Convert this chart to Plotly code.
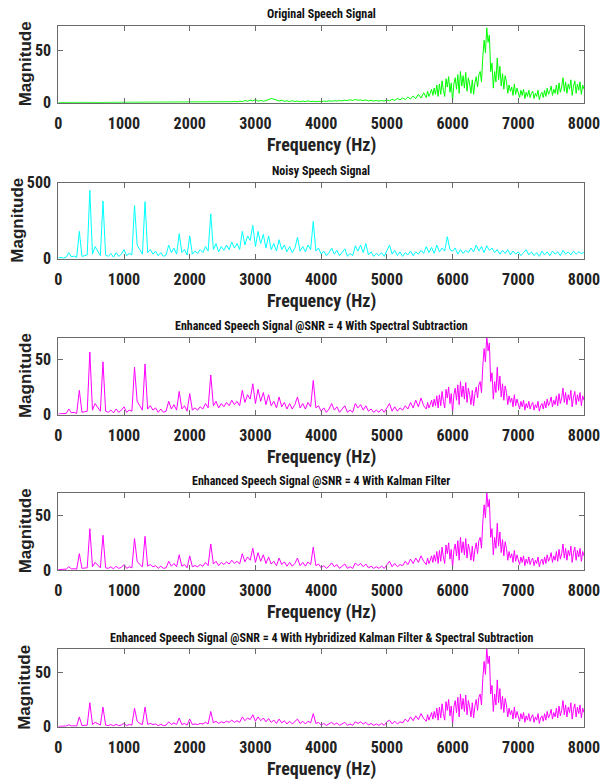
import plotly.graph_objects as go

# ---------------- data ----------------
# FFT bin grids: 40 Hz bins below 5600 Hz, 20 Hz bins in the dense upper band
freqs_full = [i * 40 for i in range(201)]          # 0 .. 8000 Hz
freqs_low = [i * 40 for i in range(140)]           # 0 .. 5560 Hz
freqs_high = [5600 + i * 20 for i in range(121)]   # 5600 .. 8000 Hz

x_ticks = [0, 1000, 2000, 3000, 4000, 5000, 6000, 7000, 8000]

titles = [
    "Original Speech Signal",
    "Noisy Speech Signal",
    "Enhanced Speech Signal @SNR = 4 With Spectral Subtraction",
    "Enhanced Speech Signal @SNR = 4 With Kalman Filter",
    "Enhanced Speech Signal @SNR = 4 With Hybridized Kalman Filter & Spectral Subtraction",
]

# upper band 5600-8000 Hz (identical-looking in the original and all enhanced panels)
upper_band = [
    5, 11, 6, 9, 13, 7, 14, 8, 17, 6, 18,
    8, 21, 12, 6, 23, 15, 25, 10, 19, 2,
    18, 24, 13, 27, 9, 30, 16, 26, 14, 29,
    11, 24, 18, 9, 22, 8, 19, 25, 15, 27,
    30, 20, 44, 60, 48, 72, 58, 65, 30, 38,
    14, 30, 20, 43, 22, 35, 16, 28, 13, 26,
    20, 9, 17, 11, 15, 7, 18, 8, 14, 10,
    5, 12, 7, 13, 4, 10, 6, 12, 5, 9,
    11, 4, 9, 6, 12, 3, 8, 10, 5, 12,
    6, 14, 8, 11, 16, 7, 13, 9, 17, 8,
    19, 10, 15, 24, 11, 20, 9, 18, 13, 22,
    7, 16, 21, 9, 18, 12, 20, 8, 17, 13,
]

original_low = [
    0.2,0.3,0.3,0.2,0.3, 0.3,0.2,0.3,0.3,0.3, 0.2,0.3,0.3,0.2,0.3, 0.3,0.3,0.2,0.3,0.3, 0.2,0.3,0.3,0.3,0.2,
    0.3,0.2,0.3,0.3,0.2, 0.3,0.3,0.2,0.3,0.3, 0.3,0.2,0.3,0.3,0.2, 0.3,0.3,0.3,0.2,0.3, 0.3,0.2,0.3,0.3,0.3,
    0.3,0.4,0.3,0.4,0.3, 0.4,0.4,0.3,0.5,0.4, 0.5,0.4,0.6,0.5,0.7, 0.6,0.9,1.2,0.8,1.5, 1.1,2.0,1.4,2.4,1.8,
    3.0,1.5,2.2,1.4,2.0, 3.2,4.0,3.5,2.2,1.6, 2.4,1.3,1.8,1.1,1.9, 1.2,1.6,0.9,1.5,1.0, 1.7,1.1,1.4,0.9,1.3,
    1.0,1.6,1.2,1.8,1.4, 2.0,1.5,2.2,1.7,2.5, 1.9,2.8,2.2,3.0,2.4, 2.7,2.0,2.6,1.8,2.3, 1.6,2.2,1.5,2.0,1.7,
    2.5,1.8,3.2,2.2,4.0, 2.8,4.5,3.0,5.5,3.5, 6.5,4.0,8.0,4.5,9.5,
]

noisy = [
    5,8,4,10,40, 12,18,8,180,15, 20,25,450,30,80, 45,20,380,25,15, 35,10,40,15,30,
    60,20,35,25,350, 90,60,30,375,40, 60,30,50,20,40, 15,25,90,40,70, 30,165,40,60,25,
    150,30,50,35,60, 40,80,50,295,60, 100,45,80,55,90, 60,110,70,100,60, 180,90,150,120,220,
    80,180,100,160,70, 150,60,100,50,125, 60,90,45,80,40, 70,140,50,80,45, 90,60,245,50,70,
    30,50,20,40,70, 30,55,20,40,65, 15,35,20,85,50, 90,40,100,25,45, 15,35,20,40,15,
    50,90,30,55,20, 45,15,40,25,50, 20,45,30,55,35, 80,40,75,35,90, 45,70,50,145,60,
    50,70,30,60,35, 55,40,70,45,90, 50,80,40,85,55, 70,40,60,30,55, 35,60,25,50,30,
    45,20,40,60,25, 45,20,40,15,50, 25,45,20,50,30, 45,20,55,30,45, 25,50,30,45,35,
    40,
]

spectral_sub_low = [
    0.5,0.8,0.5,1.0,5, 1.5,2,1,22,2, 2.5,3,57,4,10, 6,3,48,3,2, 4,1.5,5,2,4,
    7,2,4,3,43, 12,8,4,46,5, 8,4,6,2,5, 2,3,12,5,9, 4,21,5,8,3,
    19,4,6,4,7, 5,10,6,36,8, 12,6,10,7,11, 8,13,9,12,8, 22,11,18,14,28,
    10,23,12,20,9, 18,8,12,6,16, 7,11,5,10,5, 9,16,6,10,5, 11,7,31,6,8,
    3,6,2,5,10, 4,7,2,5,8, 2,4,2,10,6, 9,4,8,3,5, 2,4,2,5,2,
    6,10,3,7,3, 6,4,8,5,11, 6,13,7,15,8,
]

kalman_low = [
    0.4,0.6,0.4,0.8,3, 1.0,1.2,0.8,15,1.5, 1.8,2.0,38,3,7, 4,2,32,2,1.5, 3,1,3.5,1.5,2.5,
    5,1.5,3,2,29, 8,5,3,31,3.5, 5,3,4,1.5,3.5, 1.5,2,8,3.5,6, 3,14,3.5,5,2,
    13,3,4,3,5, 3.5,7,4,24,5.5, 8,4,7,5,7.5, 5.5,9,6,8,5.5, 15,7.5,12,9,20,
    7,16,8,14,6, 12,5.5,8,4,11, 5,7.5,3.5,7,3.5, 6,11,4,7,3.5, 7.5,5,21,4,5.5,
    2,4,1.5,3.5,6.5, 3,5,1.5,3.5,5.5, 1.5,3,1.5,6.5,4, 6,3,5.5,2,3.5, 1.5,3,1.5,3.5,1.5,
    5,8,3,6,3, 5,4,8,5,10, 6,11,7,13,8,
]

hybrid_low = [
    0.3,0.5,0.3,0.6,1.8, 0.7,0.8,0.6,9,1.0, 1.2,1.4,22,2,4, 2.5,1.5,18,1.5,1.0, 2,0.8,2.2,1.0,1.6,
    3,1.0,2,1.5,17, 5,3,2,18,2.2, 3,2,2.5,1,2.2, 1,1.4,4.5,2,3.5, 2,8,2,3,1.5,
    7,2,2.5,2,3, 2.5,4,2.5,14,3.5, 5,3,4.5,3.5,5, 4,6,4,5.5,4, 9,5.5,8,6.5,11,
    5,9,5.5,8,4.5, 7.5,4,6,3,7, 3.5,5.5,2.5,5,2.5, 4.5,7,3,5,2.5, 5,3.5,12,3,4,
    1.5,3,1.2,2.5,4, 2,3.5,1.2,2.5,4, 1.2,2.5,1.2,4.5,3, 4.5,2.5,4,1.5,3, 1.2,2.5,1.2,3,1.2,
    4.5,6,2.5,5,2.5, 4.5,3.5,7,4.5,9, 5.5,10,6.5,12,7.5,
]

series_x = [
    freqs_low + freqs_high,
    freqs_full,
    freqs_low + freqs_high,
    freqs_low + freqs_high,
    freqs_low + freqs_high,
]
series_y = [
    original_low + upper_band,
    noisy,
    spectral_sub_low + upper_band,
    kalman_low + upper_band,
    hybrid_low + upper_band,
]
y_max = [73.7, 500, 70, 71.2, 71.4]
y_ticks = [[0, 50], [0, 500], [0, 50], [0, 50], [0, 50]]
colors = ["#00FF00", "#00FFFF", "#FF00FF", "#FF00FF", "#FF00FF"]

# ---------------- layout geometry (pixels) ----------------
W, H = 612, 782
X_LEFT, X_RIGHT = 58.3, 584.0
boxes = [(26.0, 102.7), (182.7, 258.7), (337.7, 414.5), (492.7, 570.0), (649.0, 726.7)]
ylabel_x = [25, 18, 25, 25, 25]

def py(p):
    return 1 - p / H

NARROW = ("Liberation Sans Narrow, Arial Narrow, Noto Sans Condensed, "
          "Roboto Condensed, Liberation Sans, Arial, sans-serif")
REGULAR = "Liberation Sans, Arial, sans-serif"
AXIS_COLOR = "#6a6a6a"

fig = go.Figure()
layout = dict(
    width=W, height=H,
    margin=dict(l=0, r=0, t=0, b=0, autoexpand=False),
    paper_bgcolor="white", plot_bgcolor="white",
    showlegend=False,
)
annotations = []

for i, (xs, ys, col) in enumerate(zip(series_x, series_y, colors)):
    n = i + 1
    xa = "x" if n == 1 else f"x{n}"
    ya = "y" if n == 1 else f"y{n}"
    fig.add_trace(go.Scatter(
        x=xs, y=ys, mode="lines",
        line=dict(color=col, width=1),
        xaxis=xa, yaxis=ya, hoverinfo="skip",
    ))
    top, bot = boxes[i]
    common = dict(
        showline=True, linecolor=AXIS_COLOR, linewidth=1, mirror="ticks",
        ticks="inside", ticklen=5, tickcolor=AXIS_COLOR, tickwidth=1,
        showgrid=False, zeroline=False, automargin=False,
        tickfont=dict(family=NARROW, size=16, color="#222222", weight="bold"),
    )
    layout[f"xaxis{'' if n == 1 else n}"] = dict(
        domain=[X_LEFT / W, X_RIGHT / W], anchor=ya,
        range=[0, 8000], tickvals=x_ticks, ticktext=[str(v) for v in x_ticks],
        ticklabelstandoff=6, **common,
    )
    layout[f"yaxis{'' if n == 1 else n}"] = dict(
        domain=[py(bot), py(top)], anchor=xa,
        range=[0, y_max[i]], tickvals=y_ticks[i], ticktext=[str(v) for v in y_ticks[i]],
        ticklabelstandoff=3, **common,
    )
    xmid = (X_LEFT + X_RIGHT) / 2 / W
    annotations.append(dict(
        text=titles[i], xref="paper", yref="paper", x=xmid, y=py(top - 11.5),
        xanchor="center", yanchor="middle", showarrow=False,
        font=dict(family=NARROW, size=12, color="#111111", weight="bold"),
    ))
    annotations.append(dict(
        text="Frequency (Hz)", xref="paper", yref="paper", x=xmid, y=py(bot + 42),
        xanchor="center", yanchor="middle", showarrow=False,
        font=dict(family=NARROW, size=18, color="#222222", weight="bold"),
    ))
    annotations.append(dict(
        text="Magnitude", xref="paper", yref="paper", x=ylabel_x[i] / W,
        y=py((top + bot) / 2), xanchor="center", yanchor="middle",
        textangle=-90, showarrow=False,
        font=dict(family=REGULAR, size=17, color="#222222", weight="bold"),
    ))

layout["annotations"] = annotations
fig.update_layout(**layout)
fig.write_html("out.html")
